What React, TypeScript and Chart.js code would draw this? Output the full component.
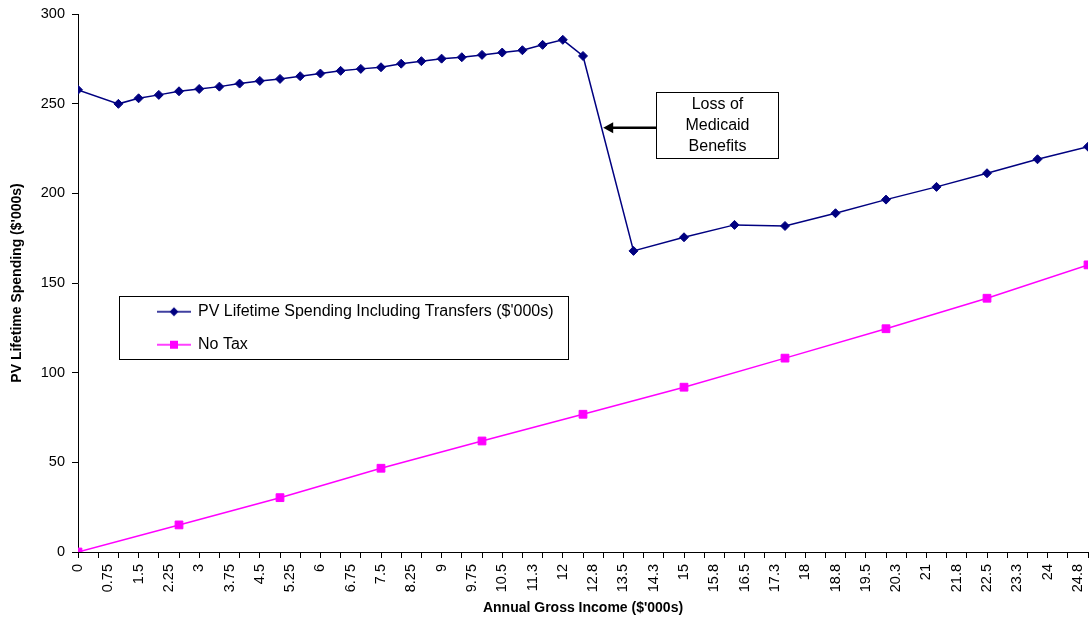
import React, { useEffect, useRef } from "react";
import { Chart, registerables } from "chart.js";

Chart.register(...registerables);

// ---- data ----
const xTickLabels = [
  "0", "0.75", "1.5", "2.25", "3", "3.75", "4.5", "5.25", "6", "6.75", "7.5", "8.25",
  "9", "9.75", "10.5", "11.3", "12", "12.8", "13.5", "14.3", "15", "15.8", "16.5", "17.3",
  "18", "18.8", "19.5", "20.3", "21", "21.8", "22.5", "23.3", "24", "24.8",
];

const spendingX = [
  0, 1, 1.5, 2, 2.5, 3, 3.5, 4, 4.5, 5, 5.5, 6, 6.5, 7, 7.5, 8, 8.5, 9, 9.5, 10, 10.5, 11,
  11.5, 12, 12.5, 13.75, 15, 16.25, 17.5, 18.75, 20, 21.25, 22.5, 23.75, 25,
];
const spendingY = [
  257.7, 249.9, 253.0, 254.9, 256.9, 258.2, 259.5, 261.2, 262.7, 263.8, 265.3, 266.8, 268.3,
  269.4, 270.3, 272.3, 273.7, 275.1, 275.9, 277.2, 278.5, 279.8, 282.8, 285.6, 276.6,
  167.9, 175.5, 182.4, 181.8, 188.9, 196.5, 203.6, 211.2, 219.0, 226.0,
];

const noTaxX = [0, 2.5, 5, 7.5, 10, 12.5, 15, 17.5, 20, 22.5, 25];
const noTaxY = [0, 15.1, 30.3, 46.7, 61.9, 76.8, 91.9, 108.1, 124.5, 141.5, 160.1];

const seriesNames = ["PV Lifetime Spending Including Transfers ($'000s)", "No Tax"];
const annotationLines = ["Loss of", "Medicaid", "Benefits"];

const NAVY = "#000080";
const MAGENTA = "#FF00FF";
const FONT = "'Liberation Sans', Arial, Helvetica, sans-serif";

function makeLegendSwatch(color: string, shape: "diamond" | "square"): HTMLCanvasElement {
  const c = document.createElement("canvas");
  c.width = 34;
  c.height = 14;
  const g = c.getContext("2d")!;
  g.strokeStyle = color;
  g.lineWidth = 1.5;
  g.beginPath();
  g.moveTo(0, 7);
  g.lineTo(34, 7);
  g.stroke();
  g.fillStyle = color;
  g.beginPath();
  if (shape === "diamond") {
    g.moveTo(17, 2.5);
    g.lineTo(21.5, 7);
    g.lineTo(17, 11.5);
    g.lineTo(12.5, 7);
    g.closePath();
  } else {
    g.rect(13, 3, 8, 8);
  }
  g.fill();
  return c;
}

export default function App() {
  const canvasRef = useRef<HTMLCanvasElement | null>(null);

  useEffect(() => {
    const canvas = canvasRef.current;
    if (!canvas) return;
    Chart.defaults.color = "#000";
    Chart.defaults.font.family = FONT;

    const swatches = [makeLegendSwatch(NAVY, "diamond"), makeLegendSwatch(MAGENTA, "square")];

    const placementPlugin = {
      id: "placement",
      afterLayout(chart: any) {
        const lg = chart.legend;
        if (!lg) return;
        lg.left = 141;
        lg.top = 286.7;
        lg.right = 568;
        lg.bottom = 380;
        lg.width = lg.right - lg.left;
        lg.height = lg.bottom - lg.top;
      },
      afterDraw(chart: any) {
        const ctx = chart.ctx as CanvasRenderingContext2D;
        const xs = chart.scales.x;
        const ys = chart.scales.y;
        ctx.save();
        // legend frame
        ctx.strokeStyle = "#000";
        ctx.lineWidth = 1;
        ctx.strokeRect(119.5, 296.5, 449, 63);

        // annotation box
        const bx1 = Math.round(xs.getPixelForValue(14.31)) + 0.5;
        const bx2 = Math.round(xs.getPixelForValue(17.33)) + 0.5;
        const by1 = Math.round(ys.getPixelForValue(256.5)) + 0.5;
        const by2 = Math.round(ys.getPixelForValue(219.7)) + 0.5;
        ctx.fillStyle = "#fff";
        ctx.fillRect(bx1, by1, bx2 - bx1, by2 - by1);
        ctx.strokeRect(bx1, by1, bx2 - bx1, by2 - by1);
        ctx.fillStyle = "#000";
        ctx.font = `16px ${FONT}`;
        ctx.textAlign = "center";
        ctx.textBaseline = "middle";
        const cx = (bx1 + bx2) / 2;
        const cy = (by1 + by2) / 2;
        annotationLines.forEach((t, i) => {
          ctx.fillText(t, cx, cy + (i - 1) * 21.3);
        });

        // arrow
        const tipX = xs.getPixelForValue(13.0);
        const ay = ys.getPixelForValue(236.6);
        ctx.strokeStyle = "#000";
        ctx.lineWidth = 2.5;
        ctx.beginPath();
        ctx.moveTo(bx1, ay);
        ctx.lineTo(tipX + 8, ay);
        ctx.stroke();
        ctx.beginPath();
        ctx.moveTo(tipX, ay);
        ctx.lineTo(tipX + 10, ay - 5.5);
        ctx.lineTo(tipX + 10, ay + 5.5);
        ctx.closePath();
        ctx.fill();
        ctx.restore();
      },
    };

    const chart = new Chart(canvas, {
      type: "line",
      data: {
        datasets: [
          {
            label: seriesNames[0],
            data: spendingX.map((x, i) => ({ x, y: spendingY[i] })),
            borderColor: NAVY,
            backgroundColor: NAVY,
            borderWidth: 1.5,
            pointStyle: "rectRot",
            pointRadius: 4.5,
            pointBorderWidth: 1,
            pointBackgroundColor: NAVY,
            pointBorderColor: NAVY,
            tension: 0,
            fill: false,
          },
          {
            label: seriesNames[1],
            data: noTaxX.map((x, i) => ({ x, y: noTaxY[i] })),
            borderColor: MAGENTA,
            backgroundColor: MAGENTA,
            borderWidth: 1.5,
            pointStyle: "rect",
            pointRadius: 5.5,
            pointBorderWidth: 1,
            pointBackgroundColor: MAGENTA,
            pointBorderColor: MAGENTA,
            tension: 0,
            fill: false,
          },
        ],
      },
      options: {
        animation: false,
        responsive: false,
        devicePixelRatio: 1,
        layout: { autoPadding: false, padding: { top: 14, right: 1, bottom: 0, left: 0 } },
        plugins: {
          tooltip: { enabled: false },
          legend: {
            display: true,
            position: "chartArea" as any,
            align: "start",
            labels: {
              usePointStyle: true,
              pointStyleWidth: 32,
              padding: 17,
              color: "#000",
              font: { size: 16, family: FONT },
              generateLabels: (ch: any) =>
                ch.data.datasets.map((ds: any, i: number) => ({
                  text: ds.label,
                  fillStyle: ds.borderColor,
                  strokeStyle: ds.borderColor,
                  lineWidth: 0,
                  pointStyle: swatches[i],
                  hidden: false,
                  datasetIndex: i,
                  fontColor: "#000",
                })),
            },
          },
        },
        scales: {
          x: {
            type: "linear",
            min: 0,
            max: 25,
            afterFit: (s: any) => {
              s.height = 75;
              s.paddingLeft = 0;
              s.paddingRight = 0;
            },
            border: { display: true, color: "#000", width: 1 },
            grid: {
              display: true,
              drawOnChartArea: false,
              drawTicks: true,
              tickLength: 6,
              tickWidth: 1,
              color: (c: any) => (c.index % 2 === 0 ? "#000" : "rgba(0,0,0,0)"),
            },
            ticks: {
              stepSize: 0.25,
              autoSkip: false,
              minRotation: 90,
              maxRotation: 90,
              padding: 6,
              color: "#000",
              font: { size: 14.5, family: FONT },
              callback: (_v: any, i: number) =>
                i % 3 === 0 && xTickLabels[i / 3] !== undefined ? xTickLabels[i / 3] : "",
            },
            title: {
              display: true,
              text: "Annual Gross Income ($'000s)",
              color: "#000",
              font: { size: 14, weight: "bold", family: FONT },
              padding: { top: 0, bottom: 10 },
            },
          },
          y: {
            type: "linear",
            min: 0,
            max: 300,
            afterFit: (s: any) => {
              s.width = 78;
              s.paddingTop = 0;
              s.paddingBottom = 0;
            },
            border: { display: true, color: "#000", width: 1 },
            grid: {
              display: true,
              drawOnChartArea: false,
              drawTicks: true,
              tickLength: 6,
              color: "#000",
            },
            ticks: {
              stepSize: 50,
              padding: 7,
              color: "#000",
              font: { size: 14.5, family: FONT },
            },
            title: {
              display: true,
              text: "PV Lifetime Spending ($'000s)",
              color: "#000",
              font: { size: 14, weight: "bold", family: FONT },
              padding: { top: 9, bottom: 0 },
            },
          },
        },
      },
      plugins: [placementPlugin],
    } as any);

    return () => chart.destroy();
  }, []);

  return (
    <canvas
      ref={canvasRef}
      width={1089}
      height={627}
      style={{ position: "absolute", left: 0, top: 0, display: "block", width: 1089, height: 627 }}
    />
  );
}
